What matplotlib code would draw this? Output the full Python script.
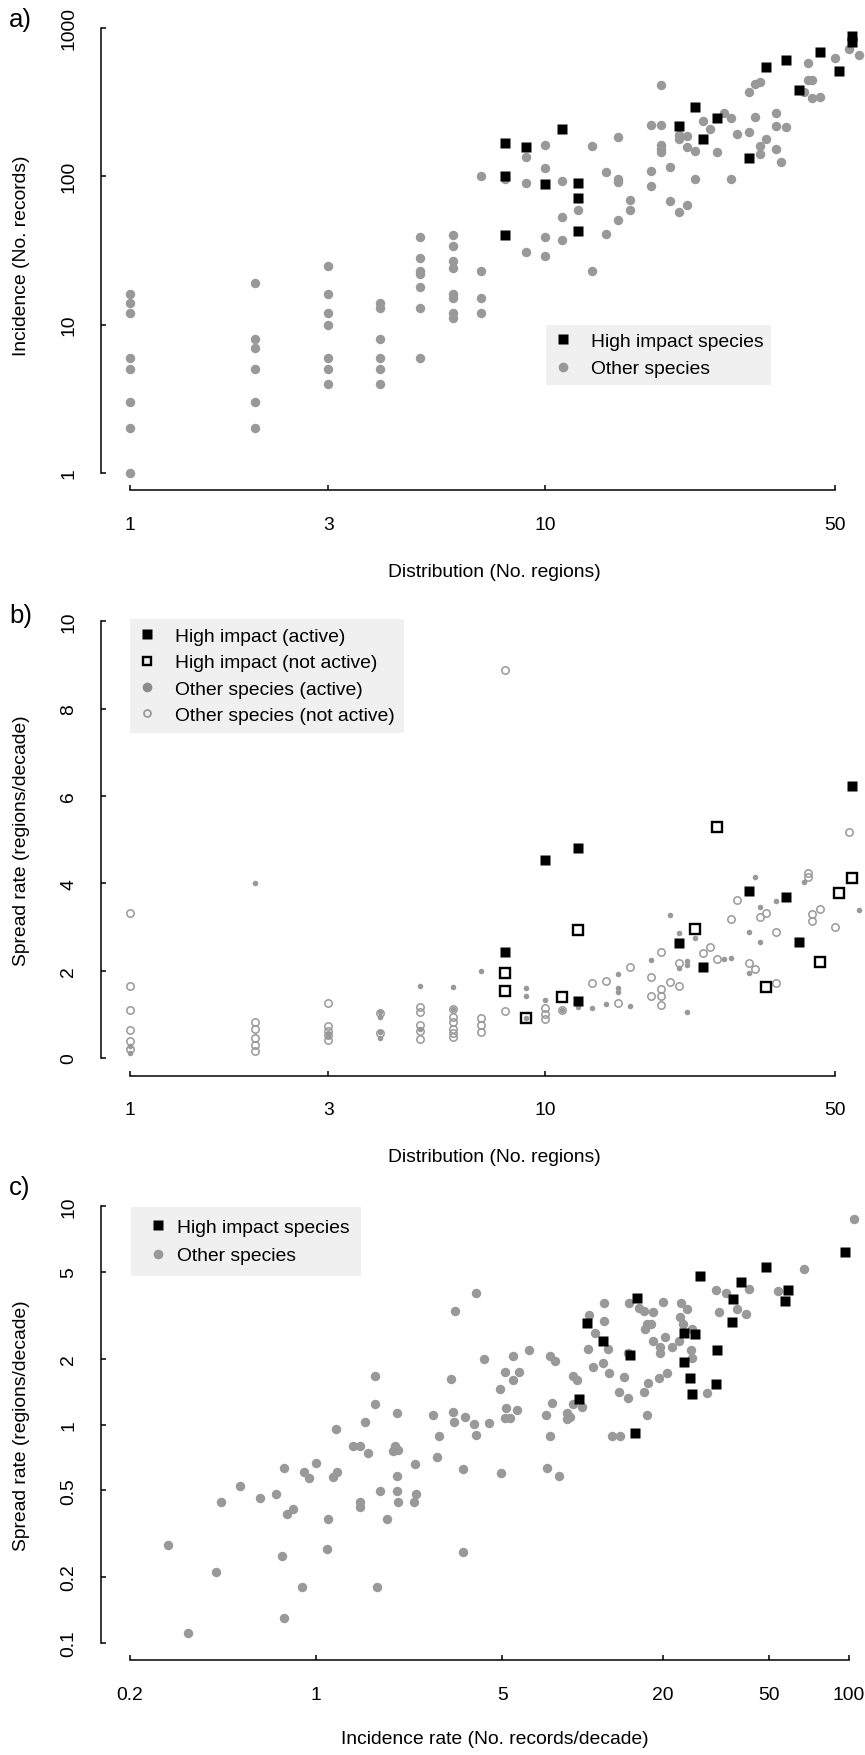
import matplotlib
matplotlib.use('Agg')
import matplotlib.pyplot as plt
from matplotlib.lines import Line2D
from matplotlib.ticker import NullLocator

plt.rcParams['font.family'] = ['Liberation Sans', 'DejaVu Sans']

W, H = 865, 1756
GRAY = '#999999'
LEGBG = '#F0F0F0'
FS = 13.9

# ---------------- data ----------------
# Panel a: distribution (No. regions) vs incidence (No. records)
a_other_x = [1, 1, 1, 1, 1, 1, 1, 1, 2, 2, 2, 2, 2, 2, 3, 3, 3, 3, 3, 3, 3,
             4, 4, 4, 4, 4, 4, 5, 5, 5, 5, 5, 5, 5, 6, 6, 6, 6, 6, 6, 6, 6,
             7, 7, 7, 7, 8, 9, 9, 9, 10, 10, 10, 10, 11, 11, 11, 12, 13, 13,
             14, 14, 15, 15, 15, 15, 16, 16, 18, 18, 18, 19, 19, 19, 19, 19,
             20, 20, 21, 21, 21, 22, 22, 22, 23, 23, 24, 25, 26, 27, 28, 28,
             29, 31, 31, 32, 32, 33, 33, 33, 34, 36, 36, 36, 37, 38, 43, 42,
             44, 44, 43, 46, 50, 54, 57]
a_other_y = [16, 14, 12, 6, 5, 3, 2, 1, 19, 8, 7, 5, 3, 2, 25, 16, 12, 10, 6, 5, 4,
             14, 13, 8, 6, 5, 4, 39, 28, 23, 22, 18, 13, 6, 40, 34, 27, 24, 16, 15, 12, 11,
             100, 23, 15, 12, 95, 134, 90, 31, 161, 114, 39, 29, 93, 53, 37, 59, 160, 23,
             106, 41, 184, 96, 91, 51, 69, 59, 222, 108, 86, 410, 221, 162, 153, 146,
             115, 68, 190, 179, 57, 186, 158, 64, 147, 95, 236, 208, 146, 268, 246, 96,
             193, 197, 371, 419, 251, 432, 160, 141, 179, 268, 219, 153, 125, 213, 580, 370,
             448, 335, 443, 342, 624, 724, 654]
a_high_x = [8, 8, 8, 9, 10, 11, 12, 12, 12, 21, 23, 24, 26, 31, 34, 38, 41, 46, 51, 55, 55]
a_high_y = [168, 101, 40, 158, 89, 209, 90, 71, 43, 218, 291, 179, 246, 132, 542, 611,
            383, 685, 510, 879, 804]

# Panel b: distribution vs spread rate
b_hi_act_x = [55, 10, 12, 8, 12, 21, 24, 31, 38, 41]
b_hi_act_y = [6.24, 4.54, 4.80, 2.43, 1.31, 2.63, 2.08, 3.83, 3.69, 2.65]
b_hi_ina_x = [26, 12, 8, 8, 9, 11, 23, 34, 46, 51, 55]
b_hi_ina_y = [5.29, 2.93, 1.94, 1.53, 0.92, 1.39, 2.95, 1.63, 2.21, 3.77, 4.13]
b_oth_act_x = [1, 1, 2, 3, 3, 4, 4, 4, 4, 5, 5, 6, 6, 7,
               32, 42, 36, 33, 57, 20, 31, 33, 21, 23, 22, 22, 21, 27, 28, 31, 18, 15, 15, 15,
               14, 13, 16, 12, 9, 9, 10, 11, 22, 9]
b_oth_act_y = [0.28, 0.12, 4.0, 0.55, 0.50, 1.05, 0.95, 0.60, 0.45, 1.66, 0.66, 1.62, 1.12, 2.0,
               4.15, 4.04, 3.59, 3.47, 3.40, 3.28, 2.89, 2.66, 2.87, 2.74, 2.22, 2.13, 2.07, 2.26,
               2.28, 1.95, 2.25, 1.92, 1.61, 1.52, 1.24, 1.14, 1.20, 1.16, 1.60, 1.41, 1.34, 1.10,
               1.06, 0.92]
b_oth_ina_x = [1, 1, 1, 1, 1, 1, 2, 2, 2, 2, 2, 3, 3, 3, 3, 3, 4, 4, 5, 5, 5, 5, 5,
               6, 6, 6, 6, 6, 6, 7, 7, 7, 8, 8,
               54, 43, 43, 29, 28, 33, 34, 46, 44, 44, 50, 36, 19, 25, 24, 16, 21, 26, 31, 32,
               36, 13, 14, 18, 20, 21, 19, 18, 19, 19, 15, 10, 10, 10, 11]
b_oth_ina_y = [3.33, 1.66, 1.11, 0.64, 0.38, 0.20, 0.82, 0.66, 0.47, 0.30, 0.17,
               1.27, 0.74, 0.62, 0.52, 0.42, 1.03, 0.57, 1.16, 1.05, 0.76, 0.62, 0.44,
               1.12, 0.93, 0.82, 0.66, 0.57, 0.49, 0.91, 0.76, 0.59, 8.88, 1.08,
               5.18, 4.23, 4.15, 3.63, 3.18, 3.24, 3.32, 3.41, 3.29, 3.14, 3.01, 2.89, 2.42,
               2.54, 2.41, 2.08, 2.18, 2.26, 2.18, 2.04, 1.73, 1.73, 1.76, 1.86, 1.75, 1.65,
               1.57, 1.42, 1.41, 1.21, 1.25, 1.15, 1.01, 0.89, 1.10]

# Panel c: incidence rate vs spread rate
c_other_x = [0.279, 0.330, 0.42, 0.438, 0.518, 0.617, 0.705, 0.755, 0.744, 0.755,
             0.775, 0.816, 0.884, 0.902, 0.937, 0.995, 1.095, 1.104, 1.159, 1.20,
             1.184, 1.371, 1.46, 1.46, 1.46, 1.525, 1.565, 1.657, 1.657, 1.696,
             1.735, 1.838, 2.005, 1.976, 2.034, 1.945, 2.016, 2.005, 2.02, 2.355,
             2.36, 2.33, 2.75, 2.89, 2.83, 3.2, 3.27, 3.3, 3.55, 3.56,
             3.63, 3.9, 3.99, 4.25, 4.44, 4.9, 4.95, 5.1, 5.14, 5.12,
             5.35, 5.48, 5.48, 5.79, 5.67, 6.29, 3.97, 3.31, 7.33, 8.12,
             104.4, 67.8, 54.0, 31.8, 34.6, 42.2, 32.4, 38.0, 41.0, 20.0,
             23.5, 24.6, 23.2, 23.9, 25.7, 25.5, 25.8, 14.9, 16.3, 17.0,
             18.4, 17.4, 17.1, 18.0, 20.4, 18.3, 19.5, 19.5, 21.6, 22.9,
             20.7, 19.3, 17.6, 17.0, 17.5, 14.8, 13.7, 14.3, 12.6, 11.9,
             10.9, 10.5, 12.5, 11.1, 10.6, 12.0, 12.0, 14.8, 7.54, 7.88,
             9.23, 9.55, 7.66, 7.29, 8.71, 8.97, 8.71, 9.92, 9.23, 29.3,
             7.54, 12.9, 13.8]
c_other_y = [0.28, 0.111, 0.21, 0.44, 0.521, 0.459, 0.48, 0.631, 0.25, 0.130,
             0.391, 0.409, 0.181, 0.608, 0.569, 0.667, 0.27, 0.369, 0.577, 0.608,
             0.952, 0.798, 0.798, 0.44, 0.418, 1.028, 0.739, 1.665, 1.247, 0.181,
             0.498, 0.369, 1.134, 0.796, 0.767, 0.755, 0.58, 0.498, 0.44, 0.66,
             0.48, 0.44, 1.106, 0.887, 0.71, 1.618, 1.138, 1.028, 0.628, 0.26,
             1.084, 1.006, 0.9, 1.991, 1.017, 1.456, 0.598, 1.742, 1.195, 1.076,
             1.076, 2.07, 1.6, 1.742, 1.167, 2.204, 4.0, 3.32, 0.63, 0.58,
             8.78, 5.17, 4.1, 4.14, 4.02, 4.2, 3.27, 3.39, 3.22, 3.66,
             3.6, 3.4, 3.12, 2.89, 2.73, 2.2, 2.03, 3.6, 3.42, 3.33,
             3.28, 2.89, 2.74, 2.89, 2.53, 2.41, 2.26, 2.14, 2.26, 2.41,
             1.72, 1.63, 1.55, 1.41, 1.106, 1.33, 1.41, 1.65, 1.72, 1.91,
             1.84, 2.23, 2.23, 2.64, 3.18, 3.6, 2.97, 2.14, 2.07, 1.95,
             1.67, 1.6, 1.25, 1.106, 1.127, 1.08, 1.06, 1.21, 1.24, 1.39,
             0.884, 0.885, 0.885]
c_high_x = [96.3, 48.8, 27.6, 39.3, 59.2, 57.7, 36.6, 36.4, 16.0, 10.4, 11.96, 15.1,
            24.0, 26.4, 31.9, 24.0, 25.4, 31.6, 25.7, 9.66, 15.7]
c_high_y = [6.2, 5.29, 4.78, 4.52, 4.13, 3.67, 3.75, 2.95, 3.8, 2.92, 2.42, 2.08,
            2.64, 2.61, 2.2, 1.94, 1.63, 1.535, 1.385, 1.31, 0.915]

# tick labels
ab_xticks = [1, 3, 10, 50]
a_yticks = [1, 10, 100, 1000]
b_yticks = [0, 2, 4, 6, 8, 10]
c_xticks = [0.2, 1, 5, 20, 50, 100]
c_yticks = [0.1, 0.2, 0.5, 1, 2, 5, 10]

# ---------------- figure ----------------
fig = plt.figure(figsize=(W / 100, H / 100), dpi=100)
fig.patch.set_facecolor('white')


def make_ax(top, bottom):
    return fig.add_axes([101 / W, 1 - bottom / H, 787 / W, (bottom - top) / H])


def style(ax, xt, yt, xb, yb):
    for s in ('top', 'right'):
        ax.spines[s].set_visible(False)
    for s in ('left', 'bottom'):
        ax.spines[s].set_linewidth(1.1)
    ax.spines['left'].set_bounds(*yb)
    ax.spines['bottom'].set_bounds(*xb)
    ax.set_xticks(xt)
    ax.set_xticklabels([('%g' % v) for v in xt])
    ax.set_yticks(yt)
    ax.set_yticklabels([('%g' % v) for v in yt], rotation=90, va='center')
    ax.xaxis.set_minor_locator(NullLocator())
    ax.yaxis.set_minor_locator(NullLocator())
    ax.tick_params(direction='in', length=3.6, width=1.1, labelsize=FS, colors='black')
    ax.tick_params(axis='x', pad=18.5)
    ax.tick_params(axis='y', pad=17)
    ax.patch.set_visible(False)


def legend(ax, handles, labels, left, top, bp, ls, hl, htp):
    lg = ax.legend(handles, labels, loc='upper left', bbox_to_anchor=(left / W, 1 - top / H),
                   bbox_transform=fig.transFigure, borderaxespad=0, frameon=True,
                   fancybox=False, facecolor=LEGBG, edgecolor='none', framealpha=1,
                   fontsize=FS, borderpad=bp, labelspacing=ls, handlelength=hl,
                   handletextpad=htp, numpoints=1)
    lg.get_frame().set_linewidth(0)
    return lg


# ----- panel a -----
ax = make_ax(20, 491)
ax.set_xscale('log')
ax.set_yscale('log')
ax.set_xlim(0.851, 67.0)
ax.set_ylim(0.768, 1146)
ax.plot(a_other_x, a_other_y, ls='none', marker='o', ms=6.8, mfc=GRAY, mec='none', clip_on=False)
ax.plot(a_high_x, a_high_y, ls='none', marker='s', ms=7.2, mfc='black', mec='none', clip_on=False)
style(ax, ab_xticks, a_yticks, (1, 50), (1, 1000))
legend(ax, [Line2D([], [], ls='none', marker='s', ms=6.6, mfc='black', mec='none'),
            Line2D([], [], ls='none', marker='o', ms=7.0, mfc=GRAY, mec='none')],
       ['High impact species', 'Other species'], 546, 325.5, 0.40, 0.53, 0.96, 0.95)

# ----- panel b -----
ax = make_ax(605, 1076.5)
ax.set_xscale('log')
ax.set_xlim(0.851, 67.0)
ax.set_ylim(-0.4, 10.4)
ax.plot(b_oth_ina_x, b_oth_ina_y, ls='none', marker='o', ms=5.3, mfc='none', mec=GRAY, mew=1.1, clip_on=False)
ax.plot(b_oth_act_x, b_oth_act_y, ls='none', marker='o', ms=4.0, mfc=GRAY, mec='none', clip_on=False)
ax.plot(b_hi_ina_x, b_hi_ina_y, ls='none', marker='s', ms=7.2, mfc='none', mec='black', mew=1.7, clip_on=False)
ax.plot(b_hi_act_x, b_hi_act_y, ls='none', marker='s', ms=7.2, mfc='black', mec='none', clip_on=False)
style(ax, ab_xticks, b_yticks, (1, 50), (0, 10))
legend(ax, [Line2D([], [], ls='none', marker='s', ms=6.6, mfc='black', mec='none'),
            Line2D([], [], ls='none', marker='s', ms=6.3, mfc='none', mec='black', mew=1.7),
            Line2D([], [], ls='none', marker='o', ms=7.0, mfc='#8c8c8c', mec='none'),
            Line2D([], [], ls='none', marker='o', ms=5.0, mfc='none', mec=GRAY, mew=1.3)],
       ['High impact (active)', 'High impact (not active)', 'Other species (active)',
        'Other species (not active)'], 130, 619.5, 0.465, 0.46, 0.83, 1.04)

# ----- panel c -----
ax = make_ax(1190, 1661)
ax.set_xscale('log')
ax.set_yscale('log')
ax.set_xlim(0.1557, 140.0)
ax.set_ylim(0.0834, 12.02)
ax.plot(c_other_x, c_other_y, ls='none', marker='o', ms=6.8, mfc=GRAY, mec='none', clip_on=False)
ax.plot(c_high_x, c_high_y, ls='none', marker='s', ms=7.2, mfc='black', mec='none', clip_on=False)
style(ax, c_xticks, c_yticks, (0.2, 100), (0.1, 10))
legend(ax, [Line2D([], [], ls='none', marker='s', ms=7.2, mfc='black', mec='none'),
            Line2D([], [], ls='none', marker='o', ms=7.0, mfc=GRAY, mec='none')],
       ['High impact species', 'Other species'], 130.5, 1208, 0.59, 0.57, 1.63, 0.19)

# ----- axis labels and panel letters -----
fig.text(494.5 / W, 1 - 572.6 / H, 'Distribution (No. regions)', ha='center', va='center', fontsize=FS)
fig.text(494.5 / W, 1 - 1157.6 / H, 'Distribution (No. regions)', ha='center', va='center', fontsize=FS)
fig.text(494.5 / W, 1 - 1740 / H, 'Incidence rate (No. records/decade)', ha='center', va='center', fontsize=FS)
fig.text(22 / W, 1 - 255.5 / H, 'Incidence (No. records)', rotation=90, ha='center', va='center', fontsize=FS)
fig.text(22 / W, 1 - 840.7 / H, 'Spread rate (regions/decade)', rotation=90, ha='center', va='center', fontsize=FS)
fig.text(22 / W, 1 - 1425.5 / H, 'Spread rate (regions/decade)', rotation=90, ha='center', va='center', fontsize=FS)
fig.text(9 / W, 1 - 20 / H, 'a)', ha='left', va='center', fontsize=18.5)
fig.text(9 / W, 1 - 616 / H, 'b)', ha='left', va='center', fontsize=18.5)
fig.text(9 / W, 1 - 1188 / H, 'c)', ha='left', va='center', fontsize=18.5)

fig.savefig('out.png', dpi=100, facecolor='white')
